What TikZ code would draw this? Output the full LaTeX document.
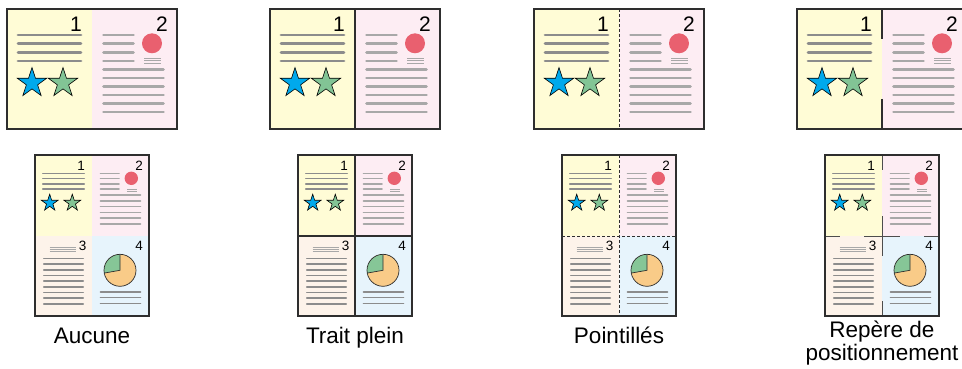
\documentclass[tikz,border=0pt]{standalone}
\usepackage{fontspec}
\setmainfont{Liberation Sans}
\usetikzlibrary{shapes.geometric,calc}
\definecolor{pgyellow}{HTML}{FFFCD6}
\definecolor{pgpink}{HTML}{FDEDF3}
\definecolor{pgpeach}{HTML}{FDF3EA}
\definecolor{pgblue}{HTML}{E7F4FC}
\definecolor{linedark}{HTML}{8C8C8C}
\definecolor{linelight}{HTML}{A8A8A8}
\definecolor{starblue}{HTML}{00A9EC}
\definecolor{stargreen}{HTML}{82C495}
\definecolor{dotred}{HTML}{E9606F}
\definecolor{pieorange}{HTML}{F9CB88}
\definecolor{piegreen}{HTML}{86C697}
\definecolor{framec}{HTML}{2E2E2E}
\tikzset{
  frame/.style={draw=framec, line width=1.4pt},
  divline/.style={draw=framec, line width=1.1pt},
  markline/.style={draw=framec!85, line width=0.9pt},
  dashline/.style={draw=framec, line width=1pt, dash pattern=on 3pt off 2pt},
  tline/.style={line width=2.7pt, line cap=round},
  bline/.style={line width=1.6pt, line cap=round},
  thinline/.style={line width=0.8pt, linelight},
  starnode/.style={star, star points=5, star point ratio=2.618, inner sep=0pt, draw=black, line width=0.6pt},
  digitbig/.style={inner sep=0pt, anchor=base east, font=\fontsize{21}{21}\selectfont},
  digitsmall/.style={inner sep=0pt, anchor=base east, font=\fontsize{13.5}{13.5}\selectfont},
  caption/.style={inner sep=0pt, anchor=base, font=\fontsize{22.5}{27}\selectfont},
}
% ---------- top (landscape) panel ----------
\newcommand{\TopPanel}[3]{%
\begin{scope}[shift={(#1,0)}]
  \fill[pgyellow] (-85,9) rectangle (0,129);
  \fill[pgpink] (0,9) rectangle (85,129);
  \foreach \yy in {35,43.7,52.3,61} \draw[tline, linedark] (-74,\yy) -- (-11,\yy);
  \node[starnode, fill=starblue, minimum size=31pt] (#2sa) at (-60,83) {};
  \node[starnode, fill=stargreen, minimum size=31pt] (#2sb) at (-29,83) {};
  \foreach \yy in {35,43.7,52.3,61} \draw[tline, linelight] (11.5,\yy) -- (41.5,\yy);
  \fill[dotred] (60,43.3) circle[radius=10pt];
  \foreach \yy in {58.3,60.7,63} \draw[thinline] (52,\yy) -- (69,\yy);
  \foreach \yy in {69.3,78,86.7,95,103.3,112} \draw[tline, linelight] (11.5,\yy) -- (71.5,\yy);
  #3
  \draw[frame] (-85,9) rectangle (85,129);
  \node[digitbig] (#2na) at (-10,32) {1};
  \node[digitbig] (#2nb) at (76,32) {2};
\end{scope}}
\newcommand{\TopSolid}{\draw[divline] (0,9) -- (0,129);}
\newcommand{\TopDash}{\draw[dashline] (0,9) -- (0,129);}
\newcommand{\TopMarks}{\draw[divline] (0,9) -- (0,39) (0,99) -- (0,129);}
% ---------- bottom (portrait) panel ----------
\newcommand{\BotPanel}[3]{%
\begin{scope}[shift={(#1,0)}]
  \fill[pgyellow] (-57,155) rectangle (0,236);
  \fill[pgpink] (0,155) rectangle (57,236);
  \fill[pgpeach] (-57,236) rectangle (0,316);
  \fill[pgblue] (0,236) rectangle (57,316);
  % page 1
  \foreach \yy in {173.3,178.5,183.7,189} \draw[bline, linedark] (-49.2,\yy) -- (-7.8,\yy);
  \node[starnode, fill=starblue, minimum size=17.5pt] (#2sa) at (-42.3,203) {};
  \node[starnode, fill=stargreen, minimum size=17.5pt] (#2sb) at (-19.7,203) {};
  % page 2
  \foreach \yy in {173.3,178.5,183.7,189} \draw[bline, linelight] (8.5,\yy) -- (27,\yy);
  \fill[dotred] (39.3,178.3) circle[radius=6.7pt];
  \foreach \yy in {189,191} \draw[thinline] (35,\yy) -- (45,\yy);
  \foreach \yy in {195,200.8,206.6,212.4,218.2,224} \draw[bline, linelight] (8.5,\yy) -- (48.5,\yy);
  % page 3
  \foreach \yy in {247.3,249.5,251.7} \draw[thinline] (-42.3,\yy) -- (-15.7,\yy);
  \foreach \yy in {258.3,264,269.7,275.4,281.1,286.8,292.5,298.2,304} \draw[bline, linedark] (-48.2,\yy) -- (-8.8,\yy);
  % page 4
  \coordinate (#2pc) at (28,270.3);
  \fill[pieorange] (#2pc) circle[radius=16pt];
  \fill[piegreen] (#2pc) -- ++(90:16pt) arc[start angle=90, end angle=190, radius=16pt] -- cycle;
  \draw[framec, line width=0.7pt] (#2pc) circle[radius=16pt];
  \draw[framec, line width=0.7pt] ($(#2pc)+(90:16pt)$) -- (#2pc) -- ++(190:16pt);
  \foreach \yy in {291.7,297.5,303.3} \draw[bline, linedark] (8.5,\yy) -- (48.5,\yy);
  #3
  \draw[frame] (-57,155) rectangle (57,316);
  \node[digitsmall] (#2na) at (-7,170) {1};
  \node[digitsmall] (#2nb) at (51,170) {2};
  \node[digitsmall] (#2nc) at (-5.5,250) {3};
  \node[digitsmall] (#2nd) at (51,250) {4};
\end{scope}}
\newcommand{\BotSolid}{\draw[divline] (0,155) -- (0,316) (-57,236) -- (57,236);}
\newcommand{\BotDash}{\draw[dashline] (0,155) -- (0,316) (-57,236) -- (57,236);}
\newcommand{\BotMarks}{\draw[markline] (0,155) -- (0,170) (0,301) -- (0,316)
   (-57,236) -- (-42,236) (42,236) -- (57,236)
   (-18,236) -- (18,236) (0,216) -- (0,256);}
\begin{document}
\begin{tikzpicture}[x=1pt, y=-1pt]
  \fill[white] (0,0) rectangle (962,369);
  \useasboundingbox (0,0) rectangle (962,369);
  \TopPanel{92}{ta}{}
  \TopPanel{355}{tb}{\TopSolid}
  \TopPanel{619}{tc}{\TopDash}
  \TopPanel{882}{td}{\TopMarks}
  \BotPanel{92}{ba}{}
  \BotPanel{355}{bb}{\BotSolid}
  \BotPanel{619}{bc}{\BotDash}
  \BotPanel{882}{bd}{\BotMarks}
  \node[caption] (capa) at (92,343) {Aucune};
  \node[caption] (capb) at (355,343) {Trait plein};
  \node[caption] (capc) at (619,343) {Pointillés};
  \node[caption] (capd1) at (882,337) {Repère de};
  \node[caption] (capd2) at (882,360) {positionnement};
\end{tikzpicture}
\end{document}
